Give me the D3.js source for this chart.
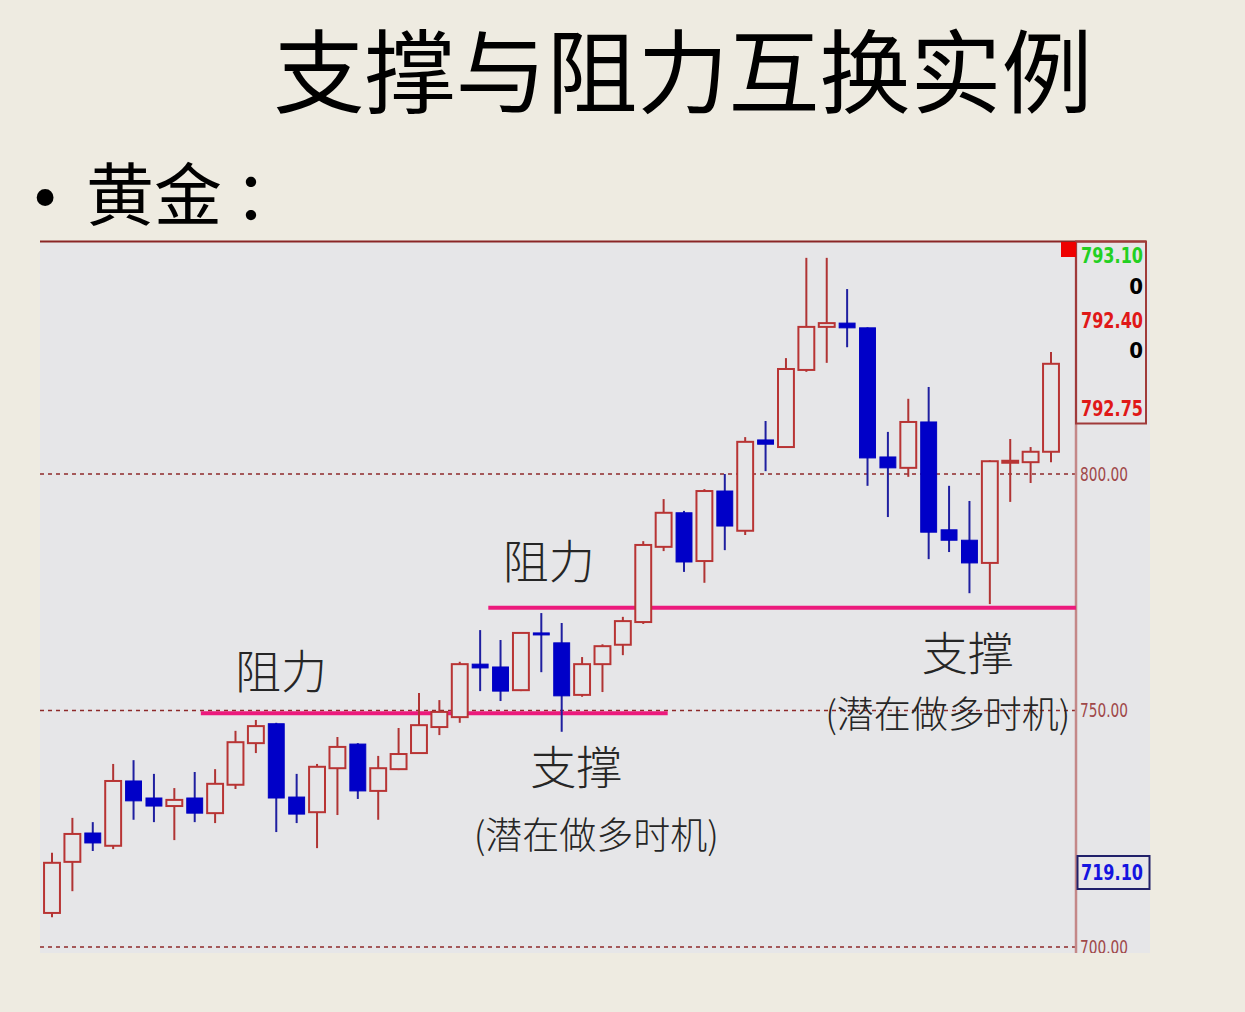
<!DOCTYPE html>
<html>
<head>
<meta charset="utf-8">
<script src="https://cdn.jsdelivr.net/npm/d3@7/dist/d3.min.js"></script>
<style>
  html, body { margin: 0; padding: 0; background: #eeebe1; }
  svg { display: block; }
</style>
</head>
<body>
<svg id="chart" width="1245" height="1012"></svg>
<script>
// ---------------- data ----------------
const title = "支撑与阻力互换实例";
const subtitleWord = "黄金";
const subtitleColon = "：";
const candleIndex = d3.range(50);
const opens  = [707.2,718.0,724.1,721.4,735.1,731.5,729.8,731.5,728.3,734.3,743.1,747.2,731.7,728.5,737.8,742.9,733.0,737.6,741.0,746.5,748.6,759.8,759.2,754.3,766.4,764.3,753.3,759.8,763.9,768.7,784.6,791.8,781.6,796.4,788.0,807.2,805.7,822.0,831.1,831.9,830.9,803.6,801.3,811.0,788.2,786.0,781.2,802.7,802.5,804.7];
const closes = [717.8,723.9,722.0,735.1,730.9,729.8,731.1,728.3,734.5,743.3,746.7,731.5,728.1,738.1,742.3,733.0,737.8,740.8,746.9,749.7,759.8,759.0,754.1,766.4,766.0,753.1,759.8,763.6,768.9,785.0,791.8,781.4,796.4,789.0,806.8,806.3,822.2,831.1,831.9,830.9,803.4,801.3,811.0,787.7,786.0,781.2,802.7,802.8,804.7,823.3];
const highs  = [719.9,727.3,726.4,738.7,739.5,736.6,733.6,737.0,737.6,745.7,748.0,747.4,736.6,738.7,744.4,743.1,740.4,746.3,753.7,752.2,760.3,767.0,764.9,766.6,770.6,768.5,761.3,764.0,769.8,785.8,794.7,792.2,796.8,800.0,807.8,811.2,824.5,845.7,845.7,839.1,831.0,808.9,815.9,818.4,797.5,794.3,802.9,807.4,805.7,825.8];
const lows   = [706.3,711.8,720.3,720.7,726.9,726.4,722.6,726.4,726.2,733.4,741.0,724.3,726.2,720.9,727.9,731.3,726.9,737.4,740.8,744.8,747.4,754.1,752.0,754.1,758.1,745.5,752.9,753.9,761.7,768.3,783.7,779.3,777.0,783.9,787.1,800.6,805.5,821.6,823.5,826.8,797.5,790.9,799.4,782.0,783.5,774.8,772.5,794.1,798.1,802.5];
const tickValues = [800, 750, 700];
const levelValues = [749.4, 771.7];           // support/resistance levels
const levelStart = [7.3, 21.4];               // candle index where each level line starts
const levelEnd   = [30.2, 49.0];               // candle index where each ends (second runs to axis)
const infoLabels = ["793.10", "0", "792.40", "0", "792.75"];
const lastLabel = "719.10";
const annoTexts = ["阻力", "阻力", "支撑", "(潜在做多时机)", "支撑", "(潜在做多时机)"];

// ---------------- layout ----------------
const svg = d3.select("#chart");
const plotL = 40, plotT = 242, plotR = 1150, plotB = 953;
const axisX = 1076;
const narrow = "'Liberation Sans Narrow', 'DejaVu Sans Condensed', sans-serif";

const x = d3.scaleLinear().domain([0, 49]).range([52, 1051]);
const y = d3.scaleLinear().domain([700, 800]).range([947, 474]);
const step = x(1) - x(0);
const bodyW = step * 0.78;

svg.append("rect").attr("width", 1245).attr("height", 1012).attr("fill", "#eeebe1");

// titles
svg.append("text").attr("x", 683).attr("y", 106)
  .attr("text-anchor", "middle")
  .attr("font-family", "'Noto Sans CJK SC', sans-serif")
  .attr("font-size", 91).attr("fill", "#000").text(title);

svg.append("text").attr("x", 28).attr("y", 219)
  .attr("font-family", "'DejaVu Sans', sans-serif")
  .attr("font-size", 58).attr("fill", "#000").text("•");
const sub = svg.append("text").attr("x", 86).attr("y", 220)
  .attr("font-family", "'Noto Sans CJK SC', sans-serif")
  .attr("font-size", 68).attr("fill", "#000");
sub.append("tspan").text(subtitleWord);
sub.append("tspan").attr("dx", 12).text(subtitleColon);

// plot area
svg.append("defs").append("clipPath").attr("id", "clip")
  .append("rect").attr("x", plotL).attr("y", plotT - 2).attr("width", plotR - plotL).attr("height", plotB - plotT + 2);
const g = svg.append("g").attr("clip-path", "url(#clip)");

g.append("rect").attr("x", plotL).attr("y", plotT).attr("width", plotR - plotL).attr("height", plotB - plotT)
  .attr("fill", "#e6e6e8");

// dashed grid at tick values
g.selectAll("line.grid").data(tickValues).join("line")
  .attr("class", "grid")
  .attr("x1", plotL).attr("x2", axisX)
  .attr("y1", d => y(d)).attr("y2", d => y(d))
  .attr("stroke", "#8e2a2a").attr("stroke-width", 1.4).attr("stroke-dasharray", "4,4");

// right axis
const axis = d3.axisRight(y).tickValues(tickValues).tickFormat(d3.format(".2f")).tickSize(0).tickPadding(4);
const ax = g.append("g").attr("transform", `translate(${axisX},0)`).call(axis);
ax.select(".domain").remove();
ax.selectAll("text")
  .attr("font-family", narrow)
  .attr("font-size", 19).attr("fill", "#a04848")
  .attr("textLength", 48).attr("lengthAdjust", "spacingAndGlyphs");

g.append("line").attr("x1", axisX).attr("x2", axisX).attr("y1", plotT - 1).attr("y2", plotB)
  .attr("stroke", "#c48888").attr("stroke-width", 2.5);

// support / resistance lines
g.selectAll("line.level").data(levelValues).join("line")
  .attr("class", "level")
  .attr("x1", (d, i) => x(levelStart[i]))
  .attr("x2", (d, i) => i === 1 ? axisX : x(levelEnd[i]))
  .attr("y1", d => y(d)).attr("y2", d => y(d))
  .attr("stroke", "#ec1a7c").attr("stroke-width", 4);

// candles
const data = candleIndex.map(i => ({ i, o: opens[i], c: closes[i], h: highs[i], l: lows[i] }));
const up = d => d.c >= d.o;
const cg = g.selectAll("g.candle").data(data).join("g").attr("class", "candle");
cg.append("line")
  .attr("x1", d => x(d.i)).attr("x2", d => x(d.i))
  .attr("y1", d => y(d.h)).attr("y2", d => y(d.l))
  .attr("stroke", d => up(d) ? "#b03434" : "#1f1fa0").attr("stroke-width", 2);
cg.append("rect")
  .attr("x", d => x(d.i) - bodyW / 2)
  .attr("width", bodyW)
  .attr("y", d => y(Math.max(d.o, d.c)))
  .attr("height", d => Math.max(2, Math.abs(y(d.o) - y(d.c))))
  .attr("fill", d => up(d) ? "#e6e6e8" : "#0000c8")
  .attr("stroke", d => up(d) ? "#b83434" : "#0000c0")
  .attr("stroke-width", d => up(d) ? 2 : 1);

// annotations (anchored to candle index / price)
const annoIdx = [11.23, 24.37, 25.72, 26.7, 44.92, 43.94];
const annoPrice = [754.7, 778.1, 734.5, 720.7, 758.6, 746.3];
const annoSize = [46, 46, 46, 37, 46, 37];
g.selectAll("text.anno").data(annoTexts).join("text")
  .attr("class", "anno")
  .attr("x", (d, i) => x(annoIdx[i]))
  .attr("y", (d, i) => y(annoPrice[i]))
  .attr("text-anchor", "middle")
  .attr("font-family", "'Noto Sans CJK SC', sans-serif")
  .attr("font-weight", 300)
  .attr("font-size", (d, i) => annoSize[i])
  .attr("fill", "#262626")
  .text(d => d);

// top border
svg.append("line").attr("x1", plotL).attr("x2", 1146).attr("y1", 241.5).attr("y2", 241.5)
  .attr("stroke", "#8a2626").attr("stroke-width", 2);

// info box
svg.append("rect").attr("x", axisX).attr("y", 241.5).attr("width", 70).attr("height", 182)
  .attr("fill", "none").attr("stroke", "#a03a3a").attr("stroke-width", 2);
svg.append("rect").attr("x", 1061).attr("y", 242).attr("width", 15).attr("height", 15).attr("fill", "#ee0000");
const infoColors = ["#22d022", "#000", "#e01818", "#000", "#e01818"];
const infoY = [255, 286, 320, 350, 408];
svg.selectAll("text.info").data(infoLabels).join("text")
  .attr("class", "info")
  .attr("x", 1143).attr("y", (d, i) => infoY[i])
  .attr("dy", "0.36em")
  .attr("text-anchor", "end")
  .attr("font-family", narrow)
  .attr("font-weight", "bold").attr("font-size", 22)
  .attr("fill", (d, i) => infoColors[i])
  .each(function (d) {
    if (d.length > 1) d3.select(this).attr("textLength", 62).attr("lengthAdjust", "spacingAndGlyphs");
  })
  .text(d => d);

// last price box
svg.append("rect").attr("x", 1077.5).attr("y", 856).attr("width", 72).attr("height", 33)
  .attr("fill", "#e6e6e8").attr("stroke", "#20206a").attr("stroke-width", 2);
svg.append("text").attr("x", 1081).attr("y", 872).attr("dy", "0.36em")
  .attr("font-family", narrow)
  .attr("font-weight", "bold").attr("font-size", 22).attr("fill", "#1414e0")
  .attr("textLength", 62).attr("lengthAdjust", "spacingAndGlyphs")
  .text(lastLabel);
</script>
</body>
</html>
